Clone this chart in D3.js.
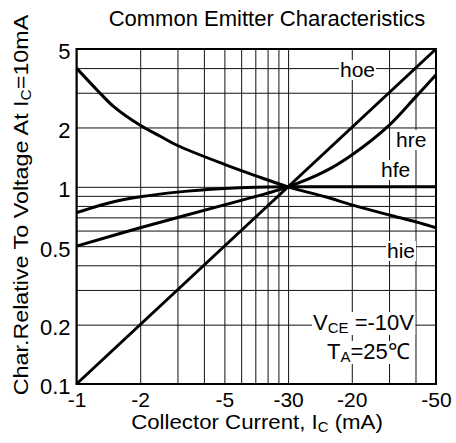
<!DOCTYPE html>
<html>
<head>
<meta charset="utf-8">
<script src="https://cdn.jsdelivr.net/npm/d3@7"></script>
<style>
body { margin: 0; background: #fff; }
svg text { font-family: Arial, "Liberation Sans", sans-serif; fill: #000; }
</style>
</head>
<body>
<svg width="456" height="443"></svg>
<script>
// tick values and their printed labels (the 10 mA tick is printed "-30" on the original)
var xTicks = [1, 2, 5, 10, 20, 50];
var xTickLabels = ["-1", "-2", "-5", "-30", "-20", "-50"];
var yTicks = [0.1, 0.2, 0.5, 1, 2, 5];
var yTickLabels = ["0.1", "0.2", "0.5", "1", "2", "5"];
var xGrid = [1, 2, 3, 4, 5, 6, 7, 8, 9, 10, 20, 30, 40, 50];
var yGrid = [0.1, 0.2, 0.3, 0.4, 0.5, 0.6, 0.7, 0.8, 0.9, 1, 2, 3, 4, 5];

// curves, |Ic| in mA -> value relative to Ic = 10mA
var hoeIc  = [1, 50];
var hoeVal = [0.1, 5];
var hieIc  = [1, 1.25, 1.5, 2, 2.5, 3, 5, 7, 10, 15, 20, 30, 40, 50];
var hieVal = [4.0, 3.1, 2.55, 2.05, 1.8, 1.62, 1.3, 1.14, 1.0, 0.89, 0.81, 0.72, 0.665, 0.62];
var hreIc  = [1, 2, 5, 10, 15, 20, 30, 40, 50];
var hreVal = [0.5, 0.62, 0.81, 1.0, 1.2, 1.45, 2.05, 2.85, 3.7];
var hfeIc  = [1, 1.5, 2, 3, 5, 7, 10, 20, 30, 50];
var hfeVal = [0.74, 0.84, 0.89, 0.94, 0.98, 0.995, 1.0, 1.0, 1.0, 1.0];

var svg = d3.select("svg");
var m = {left: 76.5, right: 436, top: 49, bottom: 384};

var x = d3.scaleLog().domain([1, 50]).range([m.left, m.right]);
var y = d3.scaleLog().domain([0.1, 5]).range([m.bottom, m.top]);

// grid
svg.append("g")
   .attr("transform", "translate(0," + m.bottom + ")")
   .call(d3.axisBottom(x).tickValues(xGrid).tickSize(-(m.bottom - m.top)).tickFormat(""))
   .call(function(g) { g.select(".domain").remove(); })
   .selectAll("line").attr("stroke", "#111").attr("stroke-width", 1);
svg.append("g")
   .attr("transform", "translate(" + m.left + ",0)")
   .call(d3.axisLeft(y).tickValues(yGrid).tickSize(-(m.right - m.left)).tickFormat(""))
   .call(function(g) { g.select(".domain").remove(); })
   .selectAll("line").attr("stroke", "#111").attr("stroke-width", 1);

// curves
var line = d3.line()
             .x(function(d) { return x(d[0]); })
             .y(function(d) { return y(d[1]); })
             .curve(d3.curveCatmullRom);

[[hoeIc, hoeVal], [hieIc, hieVal], [hreIc, hreVal], [hfeIc, hfeVal]].forEach(function(s) {
  svg.append("path")
     .datum(d3.zip(s[0], s[1]))
     .attr("d", line)
     .attr("fill", "none")
     .attr("stroke", "#000")
     .attr("stroke-width", 3);
});

// frame
svg.append("rect")
   .attr("x", m.left).attr("y", m.top)
   .attr("width", m.right - m.left).attr("height", m.bottom - m.top)
   .attr("fill", "none").attr("stroke", "#000").attr("stroke-width", 2);

// tick labels
svg.append("g")
   .attr("transform", "translate(0," + m.bottom + ")")
   .call(d3.axisBottom(x).tickValues(xTicks).tickSize(0).tickPadding(8)
           .tickFormat(function(d, i) { return xTickLabels[i]; }))
   .call(function(g) { g.select(".domain").remove(); })
   .selectAll("text").attr("font-size", 21).attr("font-family", null);
svg.append("g")
   .attr("transform", "translate(" + m.left + ",0)")
   .call(d3.axisLeft(y).tickValues(yTicks).tickSize(0).tickPadding(6)
           .tickFormat(function(d, i) { return yTickLabels[i]; }))
   .call(function(g) { g.select(".domain").remove(); })
   .selectAll("text").attr("font-size", 22).attr("font-family", null).attr("dy", "0.45em");

// text with white box behind it
function boxed(t) {
  var b = t.node().getBBox();
  svg.insert("rect", function() { return t.node(); })
     .attr("x", b.x - 1).attr("y", b.y + 2)
     .attr("width", b.width + 2).attr("height", b.height - 3)
     .attr("fill", "#fff");
}

var labels = [["hoe", 340, 77], ["hre", 396, 147], ["hfe", 381, 177], ["hie", 387, 258]];
labels.forEach(function(l) {
  var t = svg.append("text").attr("x", l[1]).attr("y", l[2])
             .attr("font-size", 21).text(l[0]);
  boxed(t);
});

var vce = svg.append("text").attr("x", 313).attr("y", 330).attr("font-size", 22);
vce.append("tspan").text("V");
vce.append("tspan").attr("font-size", 15).attr("dy", 3).text("CE");
vce.append("tspan").attr("dy", -3).text(" =-10V");
boxed(vce);

var ta = svg.append("text").attr("x", 327).attr("y", 359).attr("font-size", 22);
ta.append("tspan").text("T");
ta.append("tspan").attr("font-size", 15).attr("dy", 3).text("A");
ta.append("tspan").attr("dy", -3).text("=25\u2103");
boxed(ta);

// titles
svg.append("text")
   .attr("x", 267).attr("y", 26)
   .attr("text-anchor", "middle").attr("font-size", 22)
   .text("Common Emitter Characteristics");

var xt = svg.append("text")
   .attr("transform", "translate(257,429) scale(1.06,1)")
   .attr("text-anchor", "middle").attr("font-size", 21);
xt.append("tspan").text("Collector Current, I");
xt.append("tspan").attr("font-size", 14).attr("dy", 3).text("C");
xt.append("tspan").attr("dy", -3).text(" (mA)");

var yt = svg.append("text")
   .attr("transform", "translate(28,205) rotate(-90) scale(1.11,1)")
   .attr("text-anchor", "middle").attr("font-size", 21);
yt.append("tspan").text("Char.Relative To Voltage At I");
yt.append("tspan").attr("font-size", 14).attr("dy", 3).text("C");
yt.append("tspan").attr("dy", -3).text("=10mA");
</script>
</body>
</html>
